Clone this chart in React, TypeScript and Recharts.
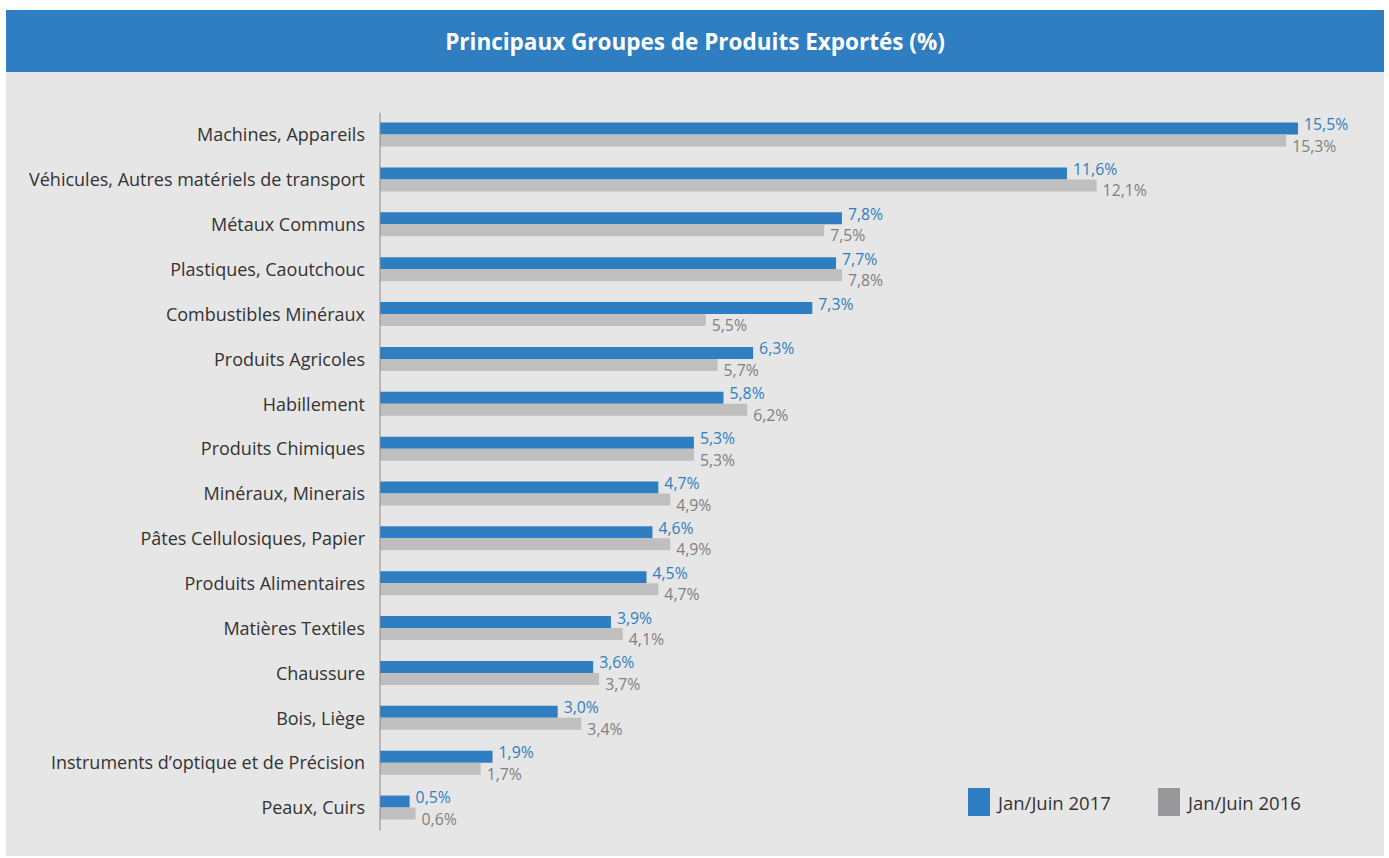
import { BarChart, Bar, XAxis, YAxis, LabelList } from 'recharts';

const categories = [
  'Machines, Appareils',
  'Véhicules, Autres matériels de transport',
  'Métaux Communs',
  'Plastiques, Caoutchouc',
  'Combustibles Minéraux',
  'Produits Agricoles',
  'Habillement',
  'Produits Chimiques',
  'Minéraux, Minerais',
  'Pâtes Cellulosiques, Papier',
  'Produits Alimentaires',
  'Matières Textiles',
  'Chaussure',
  'Bois, Liège',
  'Instruments d’optique et de Précision',
  'Peaux, Cuirs',
];
const values2017 = [15.5, 11.6, 7.8, 7.7, 7.3, 6.3, 5.8, 5.3, 4.7, 4.6, 4.5, 3.9, 3.6, 3.0, 1.9, 0.5];
const values2016 = [15.3, 12.1, 7.5, 7.8, 5.5, 5.7, 6.2, 5.3, 4.9, 4.9, 4.7, 4.1, 3.7, 3.4, 1.7, 0.6];

const data = categories.map((name, i) => ({ name, y2017: values2017[i], y2016: values2016[i] }));

const BLUE = '#2f7ec2';
const GREY = '#bfbfbf';
const LEGEND_GREY = '#98989a';

const fmt = (v: number) => `${v.toFixed(1).replace('.', ',')}%`;

function makeLabel(color: string, dy: number) {
  return (props: any) => {
    const { x, y, width, height, value } = props;
    return (
      <text
        x={Number(x) + Number(width) + 6}
        y={Number(y) + Number(height) / 2 + dy}
        fill={color}
        fontSize={15.8}
        dominantBaseline="central"
      >
        {fmt(Number(value))}
      </text>
    );
  };
}

function LegendBox() {
  const items = [
    { label: 'Jan/Juin 2017', color: BLUE },
    { label: 'Jan/Juin 2016', color: LEGEND_GREY },
  ];
  return (
    <div style={{ position: 'absolute', left: 968, top: 788, display: 'flex' }}>
      {items.map((it) => (
        <div key={it.label} style={{ display: 'flex', alignItems: 'center', width: 190 }}>
          <span style={{ display: 'inline-block', width: 22, height: 28, background: it.color, marginRight: 8 }} />
          <span style={{ fontSize: 18.5, color: '#333' }}>{it.label}</span>
        </div>
      ))}
    </div>
  );
}

export default function App() {
  return (
    <div
      style={{
        position: 'absolute',
        left: 0,
        top: 0,
        width: 1389,
        height: 858,
        background: '#fff',
        fontFamily: '"Open Sans", sans-serif',
      }}
    >
      <div
        style={{
          position: 'absolute',
          left: 6,
          top: 10,
          width: 1378,
          height: 62,
          background: BLUE,
          color: '#fff',
          fontWeight: 700,
          fontSize: 22.5,
          display: 'flex',
          alignItems: 'center',
          justifyContent: 'center',
        }}
      >
        Principaux Groupes de Produits Exportés (%)
      </div>
      <div style={{ position: 'absolute', left: 6, top: 72, width: 1378, height: 784, background: '#e6e6e6' }} />
      <div style={{ position: 'absolute', left: 0, top: 0 }}>
        <BarChart
          width={1389}
          height={858}
          data={data}
          layout="vertical"
          margin={{ top: 112.6, right: 61.4, bottom: 27.6, left: 0 }}
          barGap={0}
          barSize={12}
        >
          <XAxis type="number" domain={[0, 16]} hide />
          <YAxis
            type="category"
            dataKey="name"
            width={380}
            tickLine={false}
            tickSize={0}
            tickMargin={15}
            axisLine={{ stroke: '#8a8a8a' }}
            tick={{ fill: '#333', fontSize: 18 }}
            interval={0}
          />
          <Bar dataKey="y2017" name="Jan/Juin 2017" fill={BLUE} isAnimationActive={false}>
            <LabelList dataKey="y2017" content={makeLabel(BLUE, -4.5)} />
          </Bar>
          <Bar dataKey="y2016" name="Jan/Juin 2016" fill={GREY} isAnimationActive={false}>
            <LabelList dataKey="y2016" content={makeLabel('#808080', 5)} />
          </Bar>
        </BarChart>
      </div>
      <LegendBox />
    </div>
  );
}
